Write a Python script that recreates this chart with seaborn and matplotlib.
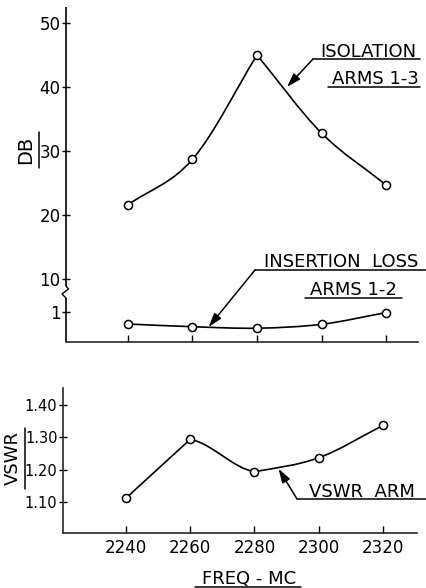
import numpy as np
import pandas as pd
import matplotlib
matplotlib.use("Agg")
import matplotlib.pyplot as plt
from matplotlib.path import Path
from matplotlib.patches import PathPatch
from matplotlib.lines import Line2D
import seaborn as sns

# ---------------- data ----------------
freq = [2240, 2260, 2280, 2300, 2320]
isolation_db = [21.6, 28.7, 45.0, 32.8, 24.7]
insertion_db = [0.60, 0.51, 0.46, 0.59, 0.98]
vswr = [1.112, 1.294, 1.194, 1.237, 1.337]

db_ticks = [1, 10, 20, 30, 40, 50]
db_ticklabels = ["1", "10", "20", "30", "40", "50"]
vswr_ticks = [1.10, 1.20, 1.30, 1.40]
vswr_ticklabels = ["1.10", "1.20", "1.30", "1.40"]
freq_ticklabels = ["2240", "2260", "2280", "2300", "2320"]

df = pd.DataFrame({"freq": freq, "isolation": isolation_db,
                   "insertion": insertion_db, "vswr": vswr})

# ---------------- style ----------------
sns.set_style("ticks")
plt.rcParams["font.family"] = ["DejaVu Sans"]
W, H = 426, 588
fig = plt.figure(figsize=(W / 100, H / 100), dpi=100)
INK = "black"
LW = 1.2


def fx(px):
    return px / W


def fy(py):
    return 1 - py / H


def smooth_curve(ax, xs, ys, cusps=None, lw=1.2):
    """Cubic Bezier through the data points (Catmull-Rom tangents;
    'cusps' maps a point index to (in, out) chord-tangent factors)."""
    cusps = cusps or {}
    x = np.asarray(xs, float)
    y = np.asarray(ys, float)
    n = len(x)
    m_in = np.zeros((n, 2))
    m_out = np.zeros((n, 2))
    for i in range(n):
        if i == 0:
            t = np.array([x[1] - x[0], y[1] - y[0]])
            m_in[i] = m_out[i] = t
        elif i == n - 1:
            t = np.array([x[i] - x[i - 1], y[i] - y[i - 1]])
            m_in[i] = m_out[i] = t
        elif i in cusps:
            a, b = cusps[i]
            m_in[i] = [x[i] - x[i - 1], a * (y[i] - y[i - 1])]
            m_out[i] = [x[i + 1] - x[i], b * (y[i + 1] - y[i])]
        else:
            t = np.array([x[i + 1] - x[i - 1], y[i + 1] - y[i - 1]]) / 2
            m_in[i] = m_out[i] = t
    verts = [(x[0], y[0])]
    codes = [Path.MOVETO]
    for i in range(n - 1):
        p0 = np.array([x[i], y[i]])
        p1 = np.array([x[i + 1], y[i + 1]])
        c1 = p0 + m_out[i] / 3
        c2 = p1 - m_in[i + 1] / 3
        verts += [tuple(c1), tuple(c2), tuple(p1)]
        codes += [Path.CURVE4] * 3
    patch = PathPatch(Path(verts, codes), facecolor="none", edgecolor=INK,
                      lw=lw, transform=ax.transData, zorder=2)
    ax.add_patch(patch)


def markers(ax, ycol):
    sns.scatterplot(data=df, x="freq", y=ycol, ax=ax, s=34, marker="o",
                    facecolor="white", edgecolor=INK, linewidth=1.1,
                    zorder=3, legend=False)


# ---------------- top panel (broken DB scale) ----------------
def fwd(v):
    v = np.asarray(v, float)
    return np.where(v <= 1, 30 * v,
                    np.where(v <= 10, 30 + (v - 1) * 33 / 9, 63 + 6.4 * (v - 10)))


def inv(p):
    p = np.asarray(p, float)
    return np.where(p <= 30, p / 30,
                    np.where(p <= 63, 1 + (p - 30) * 9 / 33, 10 + (p - 63) / 6.4))


ax1 = fig.add_axes([fx(66), fy(342), fx(418) - fx(66), fy(7) - fy(342)])
ax1.set_yscale("function", functions=(fwd, inv))
ax1.set_xlim(2220.8, 2329.9)
ax1.set_ylim(0, 52.5)
smooth_curve(ax1, freq, isolation_db, cusps={2: (1.0, 1.0)}, lw=LW)
smooth_curve(ax1, freq, insertion_db, lw=LW)
markers(ax1, "isolation")
markers(ax1, "insertion")
ax1.set_xticks(freq)
ax1.set_xticklabels([])
ax1.set_yticks(db_ticks)
ax1.set_yticklabels(db_ticklabels)
ax1.minorticks_off()
ax1.set_xlabel("")
ax1.set_ylabel("")
for s in ["top", "right", "left"]:
    ax1.spines[s].set_visible(False)
ax1.spines["bottom"].set_linewidth(LW)
ax1.tick_params(axis="x", direction="in", length=5, width=1.0, colors=INK)
ax1.tick_params(axis="y", direction="inout", length=6, width=1.0, pad=1,
                labelsize=12, colors=INK)

# left spine drawn with a break zigzag (axes-fraction coords)
ax_h = 342 - 7
ax_w = 418 - 66
brk_top = (342 - 286) / ax_h
brk_bot = (342 - 298) / ax_h
ax1.plot([0, 0], [brk_top, 1], transform=ax1.transAxes, color=INK, lw=LW,
         clip_on=False, solid_capstyle="butt")
ax1.plot([0, 0], [0, brk_bot], transform=ax1.transAxes, color=INK, lw=LW,
         clip_on=False, solid_capstyle="butt")
zx = np.array([0, 2.5, -4, 0]) / ax_w
zy = (342 - np.array([286, 289, 294, 298])) / ax_h
ax1.plot(zx, zy, transform=ax1.transAxes, color=INK, lw=1.0, clip_on=False)

# ---------------- bottom panel (VSWR) ----------------
ax2 = fig.add_axes([fx(63), fy(533), fx(417) - fx(63), fy(388) - fy(533)])
ax2.set_xlim(2220.4, 2330.6)
ax2.set_ylim(1.004, 1.453)
smooth_curve(ax2, freq, vswr, cusps={1: (1.0, 0.35), 2: (0.3, 0.8)}, lw=LW)
markers(ax2, "vswr")
ax2.set_xticks(freq)
ax2.set_xticklabels(freq_ticklabels)
ax2.set_yticks(vswr_ticks)
ax2.set_yticklabels(vswr_ticklabels)
ax2.set_xlabel("")
ax2.set_ylabel("")
for s in ["top", "right"]:
    ax2.spines[s].set_visible(False)
for s in ["left", "bottom"]:
    ax2.spines[s].set_linewidth(LW)
ax2.tick_params(axis="x", direction="in", length=5, width=1.0, pad=4,
                labelsize=12, colors=INK)
ax2.tick_params(axis="y", direction="inout", length=6, width=1.0, pad=1,
                labelsize=10.5, colors=INK)

# ---------------- text, underlines, leaders ----------------
TFS = 13


def hline(x0, x1, y, lw=1.1):
    fig.add_artist(Line2D([fx(x0), fx(x1)], [fy(y), fy(y)], color=INK, lw=lw))


def vline(x, y0, y1, lw=1.1):
    fig.add_artist(Line2D([fx(x), fx(x)], [fy(y0), fy(y1)], color=INK, lw=lw))


def label(xc, yb, s, fs=TFS):
    fig.text(fx(xc), fy(yb), s, ha="center", va="baseline", fontsize=fs,
             color=INK)


def leader(ax, xy, x0, y0):
    ax.annotate("", xy=xy, xycoords="data", xytext=(fx(x0), fy(y0)),
                textcoords="figure fraction",
                arrowprops=dict(arrowstyle="-|>,head_length=0.7,head_width=0.22",
                                color=INK, lw=1.1, shrinkA=0, shrinkB=0,
                                mutation_scale=12))


# isolation
label(368.5, 57, "ISOLATION")
hline(313, 420, 59)
label(375, 84, "ARMS 1-3")
hline(328, 420, 87)
leader(ax1, (2289.3, 40.0), 313, 59)

# insertion loss
label(341, 267, "INSERTION  LOSS")
hline(255, 426, 270)
label(353, 295, "ARMS 1-2")
hline(305, 402, 298)
leader(ax1, (2265.0, 0.50), 255, 270)

# vswr arm
label(362, 497, "VSWR  ARM")
hline(297, 426, 499)
leader(ax2, (2287.5, 1.203), 297, 499)

# axis titles
label(249, 584, "FREQ - MC")
hline(195, 301, 587)

fig.text(fx(26), fy(150), "DB", rotation=90, ha="center", va="center",
         fontsize=14, color=INK)
vline(39, 132, 168)
fig.text(fx(13), fy(458), "VSWR", rotation=90, ha="center", va="center",
         fontsize=13, color=INK)
vline(25, 428, 489)

fig.savefig("out.png", dpi=100, facecolor="white")
